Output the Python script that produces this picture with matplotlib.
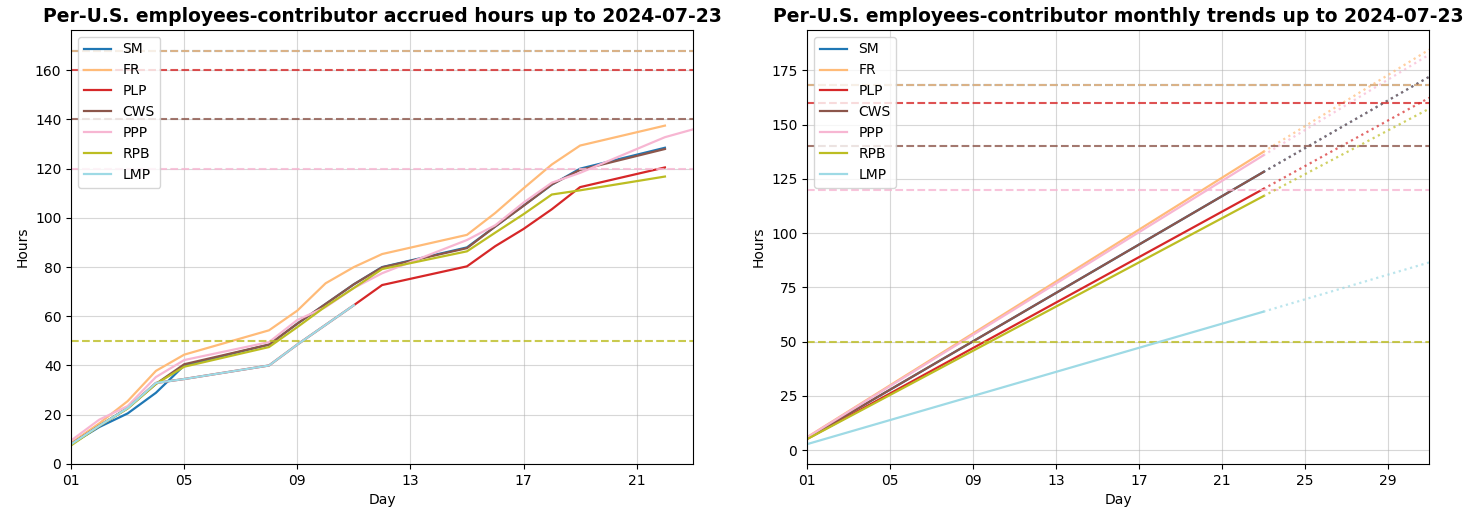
"""Per-contributor accrued hours and monthly trend, July 2024."""

import matplotlib
matplotlib.use("Agg")
import matplotlib.pyplot as plt
import matplotlib.dates as mdates
import pandas as pd

# Working days with recorded hours (July 2024)
work_days = [1, 2, 3, 4, 5, 8, 9, 10, 11, 12, 15, 16, 17, 18, 19, 22]

names = ["SM", "FR", "PLP", "CWS", "PPP", "RPB", "LMP"]

# Accrued hours per contributor
sm_hours = [8, 15, 20.5, 28.9, 40, 48.5, 57, 65, 73, 80, 88, 96.5, 105, 113.5, 120, 128.5]
fr_hours = [8.5, 16.5, 25.5, 37.8, 44.4, 54.3, 62.3, 73.4, 80, 85.3, 93.1, 102, 112, 121.7, 129.4, 137.5]
plp_hours = [8, 15.5, 22.7, 32.9, 34.5, 40, 48.5, 56.5, 64.5, 72.7, 80.3, 88.5, 95.5, 103.5, 112.5, 120.5]
cws_hours = [8, 15.5, 22.7, 32.5, 40.5, 48.5, 57, 65, 73, 79.9, 87.7, 96.5, 104.9, 113.6, 119.5, 128]
ppp_hours = [9.5, 18, 23.5, 35.3, 42.2, 49.5, 58.5, 63.7, 71.5, 77.5, 91, 97, 106.2, 114.3, 118.3, 132.8, 136]
rpb_hours = [7.5, 15.5, 22.5, 32.5, 39.5, 47.5, 55.6, 64, 71.5, 79.2, 86.4, 94, 101.5, 109.5, 111.2, 116.8]
lmp_hours = [8, 15.5, 22.7, 32.9, 34.5, 40, 48.5, 56.5, 64.5]

ppp_days = work_days + [23]
lmp_days = work_days[:9]

# Monthly targets (None = no target line)
targets = [168, 168, 160, 140, 120, 50, None]

# Trend lines: value on day 1, today (day 23) and month end (day 31)
trend_days = [1, 23, 31]
trend_start = [5.6, 6.0, 5.2, 5.6, 5.9, 5.1, 2.8]
trend_now = [128.1, 137.4, 120.3, 128.1, 135.8, 117.0, 63.8]
trend_end = [172.0, 184.5, 162.3, 172.0, 182.2, 157.3, 86.5]

series_days = [work_days, work_days, work_days, work_days, ppp_days, work_days, lmp_days]
series_hours = [sm_hours, fr_hours, plp_hours, cws_hours, ppp_hours, rpb_hours, lmp_hours]

cmap = plt.get_cmap("tab20")
colors = [cmap(i / (len(names) - 1)) for i in range(len(names))]


def to_dates(days):
    return pd.to_datetime([f"2024-07-{d:02d}" for d in days])


fig, (ax1, ax2) = plt.subplots(1, 2, figsize=(14.81, 5.16), dpi=100)
fig.subplots_adjust(left=0.048, right=0.965, top=0.942, bottom=0.101, wspace=0.183)

# Left: accrued hours
for name, days, hours, color, target in zip(names, series_days, series_hours, colors, targets):
    ax1.plot(to_dates(days), hours, color=color, label=name, linewidth=1.6)
    if target is not None:
        ax1.axhline(target, color=color, linestyle="--", alpha=0.8, linewidth=1.5)

ax1.set_xlim(to_dates([1])[0], to_dates([23])[0])
ax1.set_ylim(0, 168 * 1.05)
ax1.set_title("Per-U.S. employees-contributor accrued hours up to 2024-07-23",
              fontsize=13.5, fontweight="bold")

# Right: monthly trends
for i, (name, color, target) in enumerate(zip(names, colors, targets)):
    vals = [trend_start[i], trend_now[i], trend_end[i]]
    d = to_dates(trend_days)
    ax2.plot(d[:2], vals[:2], color=color, label=name, linewidth=1.6)
    ax2.plot(d[1:], vals[1:], color=color, linestyle=":", alpha=0.7, linewidth=1.6)
    if target is not None:
        ax2.axhline(target, color=color, linestyle="--", alpha=0.8, linewidth=1.5)

ax2.set_xlim(to_dates([1])[0], to_dates([31])[0])
ax2.set_title("Per-U.S. employees-contributor monthly trends up to 2024-07-23",
              fontsize=13.5, fontweight="bold")

for ax in (ax1, ax2):
    ax.xaxis.set_major_locator(mdates.DayLocator(bymonthday=range(1, 32, 4)))
    ax.xaxis.set_major_formatter(mdates.DateFormatter("%d"))
    ax.set_xlabel("Day")
    ax.set_ylabel("Hours")
    ax.grid(True, alpha=0.5)
    ax.legend(loc="upper left", fontsize=10)

fig.savefig("out.png", dpi=100)
